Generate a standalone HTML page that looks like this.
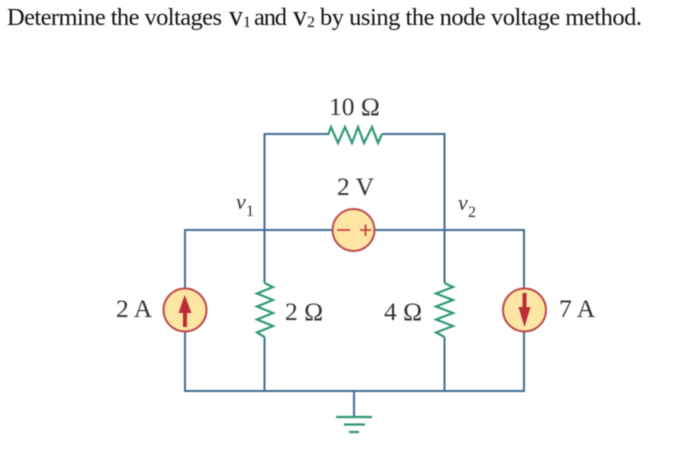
<!DOCTYPE html>
<html><head><meta charset="utf-8"><style>
html,body{margin:0;padding:0;background:#fff;width:680px;height:455px;overflow:hidden}
svg{display:block;filter:blur(.4px)}
text{font-family:"Liberation Serif",serif}
</style></head><body>
<svg width="680" height="455" viewBox="0 0 680 455" xmlns="http://www.w3.org/2000/svg">
<g fill="#111" font-size="24.5">
<text x="7" y="25" textLength="215" lengthAdjust="spacing">Determine the voltages</text>
<text x="229" y="25" font-size="28">v</text>
<text x="243" y="27" font-size="16">1</text>
<text x="254" y="25" textLength="33" lengthAdjust="spacing">and</text>
<text x="293" y="25" font-size="28">v</text>
<text x="307" y="27" font-size="16">2</text>
<text x="320" y="25" textLength="322" lengthAdjust="spacing">by using the node voltage method.</text>
</g>
<g fill="none" stroke="#3f6d93" stroke-width="2">
<path d="M185 288V230H333M375 230H524V288M185 332V391H524V332"/>
<path d="M264.500 283V134H328M382 134H444.500V283M264.500 337V391M444.500 337V391M354 391V417"/>
</g>
<g fill="none" stroke="#2f9a70" stroke-width="2.200">
<path d="M328 135L331 127L338 143L345 127L352 143L358 127L364 143L372 127L378 143L382 134"/>
<path d="M264.500 283L273 287L257 293.500L273 300L257 306.500L273 313L257 319.500L273 326L257 332.500L264.500 337"/>
<path d="M444.500 283L453 287L436 293.500L453 300L436 306.500L453 313L436 319.500L453 326L436 332.500L444.500 337"/>
<path d="M336 417H372M344 424.500H365M349 432H359"/>
</g>
<g fill="#fde6a4" stroke="#bd4a4a" stroke-width="2">
<circle cx="185" cy="310" r="21.500"/>
<circle cx="353.500" cy="230" r="21"/>
<circle cx="524.500" cy="310" r="21.500"/>
</g>
<g fill="#bb2c36" stroke="none">
<path d="M184.700 295L191.500 313H187V327H183V313H178.500Z"/>
<path d="M524.500 327L530.500 307H526.500V293H522.500V307H518.500Z"/>
</g>
<path d="M337 230H350M360 230H371M365.500 224.500V236" fill="none" stroke="#c8453f" stroke-width="1.800"/>
<g fill="#333" font-size="25.500">
<text x="329" y="115">10 Ω</text>
<text x="337" y="195">2 V</text>
<text x="116" y="317">2 A</text>
<text x="285" y="320">2 Ω</text>
<text x="384" y="320">4 Ω</text>
<text x="559" y="317">7 A</text>
</g>
<g fill="#333" font-size="22">
<text x="236" y="209" font-style="italic">v</text>
<text x="246" y="216" font-size="16">1</text>
<text x="458" y="210" font-style="italic">v</text>
<text x="468" y="217" font-size="16">2</text>
</g>
</svg>
</body></html>
